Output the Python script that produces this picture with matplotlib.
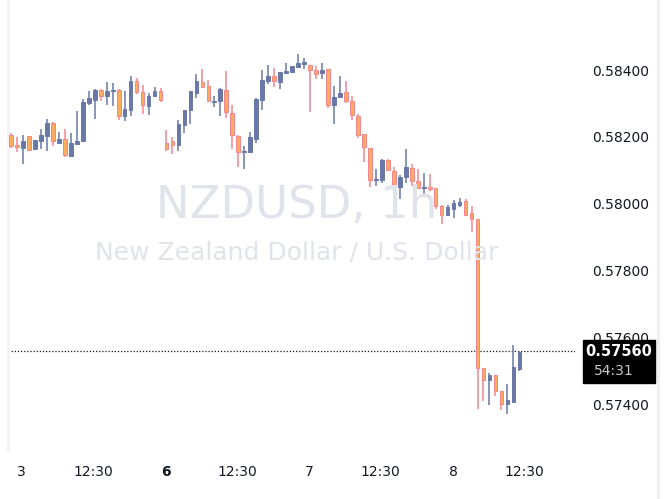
import matplotlib
matplotlib.use("Agg")
import matplotlib.pyplot as plt
import numpy as np

opens = [0.58205,0.58176,0.58166,0.58202,0.58163,0.58187,0.58202,0.58241,0.58181,0.58193,
         0.58142,0.58178,0.58187,0.58301,0.58310,0.58340,0.58322,0.58337,0.58340,0.58262,
         0.58280,0.58367,0.58334,0.58292,0.58322,0.58337,0.58181,0.58187,0.58175,0.58235,
         0.58280,0.58331,0.58364,0.58352,0.58304,0.58307,0.58340,0.58271,0.58202,0.58154,
         0.58154,0.58193,0.58310,0.58367,0.58382,0.58364,0.58391,0.58394,0.58409,0.58418,
         0.58415,0.58400,0.58391,0.58403,0.58295,0.58319,0.58334,0.58307,0.58262,0.58208,
         0.58166,0.58070,0.58070,0.58130,0.58097,0.58049,0.58079,0.58106,0.58067,0.58046,
         0.58049,0.58046,0.57992,0.57965,0.57983,0.57995,0.58007,0.57971,0.57953,0.57509,
         0.57473,0.57488,0.57440,0.57401,0.57407,0.57506]
closes = [0.58172,0.58170,0.58187,0.58160,0.58190,0.58205,0.58241,0.58187,0.58193,0.58145,
          0.58181,0.58187,0.58304,0.58316,0.58340,0.58322,0.58337,0.58340,0.58262,0.58283,
          0.58367,0.58334,0.58295,0.58322,0.58337,0.58310,0.58163,0.58175,0.58238,0.58280,
          0.58337,0.58367,0.58349,0.58307,0.58307,0.58343,0.58274,0.58205,0.58154,0.58157,
          0.58199,0.58313,0.58370,0.58382,0.58367,0.58394,0.58397,0.58412,0.58421,0.58424,
          0.58400,0.58388,0.58400,0.58295,0.58319,0.58331,0.58307,0.58265,0.58205,0.58169,
          0.58070,0.58073,0.58130,0.58100,0.58052,0.58079,0.58109,0.58067,0.58046,0.58049,
          0.58043,0.57992,0.57965,0.57989,0.58001,0.58004,0.57965,0.57953,0.57509,0.57473,
          0.57488,0.57440,0.57401,0.57413,0.57512,0.57557]
highs = [0.58210,0.58199,0.58205,0.58202,0.58190,0.58223,0.58253,0.58244,0.58214,0.58223,
         0.58211,0.58277,0.58313,0.58337,0.58343,0.58343,0.58364,0.58361,0.58343,0.58337,
         0.58382,0.58376,0.58355,0.58331,0.58349,0.58346,0.58220,0.58199,0.58250,0.58280,
         0.58337,0.58388,0.58403,0.58370,0.58322,0.58346,0.58397,0.58295,0.58205,0.58172,
         0.58214,0.58316,0.58400,0.58415,0.58406,0.58394,0.58421,0.58412,0.58448,0.58436,
         0.58415,0.58412,0.58421,0.58403,0.58352,0.58382,0.58367,0.58322,0.58268,0.58208,
         0.58166,0.58103,0.58133,0.58133,0.58109,0.58085,0.58163,0.58118,0.58103,0.58091,
         0.58088,0.58046,0.57995,0.57995,0.58010,0.58016,0.58013,0.57992,0.57953,0.57509,
         0.57494,0.57488,0.57440,0.57461,0.57578,0.57560]
lows = [0.58165,0.58154,0.58118,0.58160,0.58160,0.58163,0.58157,0.58172,0.58181,0.58139,
        0.58139,0.58178,0.58187,0.58295,0.58253,0.58307,0.58295,0.58292,0.58250,0.58247,
        0.58262,0.58328,0.58268,0.58265,0.58322,0.58304,0.58157,0.58148,0.58157,0.58211,
        0.58238,0.58316,0.58349,0.58307,0.58289,0.58262,0.58256,0.58163,0.58109,0.58103,
        0.58154,0.58181,0.58280,0.58358,0.58349,0.58343,0.58391,0.58394,0.58409,0.58403,
        0.58274,0.58373,0.58373,0.58286,0.58238,0.58319,0.58301,0.58250,0.58196,0.58124,
        0.58049,0.58052,0.58061,0.58100,0.58034,0.58013,0.58061,0.58052,0.58043,0.58028,
        0.58037,0.57983,0.57938,0.57965,0.57956,0.57989,0.57962,0.57914,0.57386,0.57410,
        0.57398,0.57425,0.57383,0.57371,0.57407,0.57500]

xtick_pos = [1.7, 13.7, 25.9, 37.9, 49.8, 61.8, 73.9, 85.9]
xtick_labels = ["3", "12:30", "6", "12:30", "7", "12:30", "8", "12:30"]
ytick_vals = [0.574, 0.576, 0.578, 0.580, 0.582, 0.584]
last_price = 0.57560
countdown = "54:31"

UP_BODY, UP_EDGE = "#6a78a8", "#6a78a8"
DN_BODY, DN_EDGE = "#fcac5e", "#f38590"

fig = plt.figure(figsize=(6.7, 4.99), dpi=100)
ax = fig.add_axes([8/670, 49/499, 567/670, 450/499])
o = np.array(opens); c = np.array(closes); h = np.array(highs); l = np.array(lows)
x = np.arange(len(o))
up = c >= o
ax.vlines(x[up], l[up], h[up], color=UP_EDGE, lw=1.1, zorder=2)
ax.vlines(x[~up], l[~up], h[~up], color=DN_EDGE, lw=1.1, zorder=2)
bot = np.minimum(o, c); ht = np.maximum(np.abs(c - o), 0.000008)
ax.bar(x[up], ht[up], bottom=bot[up], width=0.62, color=UP_BODY, edgecolor=UP_EDGE, lw=0.7, zorder=3)
ax.bar(x[~up], ht[~up], bottom=bot[~up], width=0.62, color=DN_BODY, edgecolor=DN_EDGE, lw=0.7, zorder=3)

ax.set_xlim(-0.5, 94.3)
ax.set_ylim(0.584 - 380/33400, 0.584 + 70/33400)
ax.axhline(last_price, color="#131722", ls=(0, (1, 1.5)), lw=0.9, zorder=1)

for s in ax.spines.values():
    s.set_visible(False)
ax.spines['left'].set_visible(True)
ax.spines['left'].set_color("#f3f3f5")
ax.spines['left'].set_linewidth(2)
ax.yaxis.tick_right()
ax.set_yticks(ytick_vals)
ax.set_yticklabels([f"{v:.5f}" for v in ytick_vals], fontsize=10, color="#131722")
ax.tick_params(axis='y', length=0, pad=12)
ax.set_xticks(xtick_pos)
ax.set_xticklabels(xtick_labels, fontsize=10, color="#131722")
for t in ax.get_xticklabels():
    if t.get_text() == "6":
        t.set_fontweight("bold")
ax.tick_params(axis='x', length=0, pad=11)

fig.text(297/670, 1 - 205/499, "NZDUSD, 1h", fontsize=32.5, color="#e1e3ea", ha="center", va="center", zorder=0)
fig.text(297/670, 1 - 253/499, "New Zealand Dollar / U.S. Dollar", fontsize=18, color="#e1e3ea", ha="center", va="center", zorder=0)

box = plt.Rectangle((583/670, 1 - 383/499), 72/670, 43/499, transform=fig.transFigure, color="black", zorder=5)
fig.patches.append(box)
fig.text(619/670, 1 - 351/499, f"{last_price:.5f}", fontsize=10.5, color="white", fontweight="bold", ha="center", va="center", zorder=6)
fig.text(594/670, 1 - 371/499, countdown, fontsize=10, color="#c8c8c8", ha="left", va="center", zorder=6)
fig.add_artist(plt.Line2D([658/670, 658/670], [0, 1], color="#f0f0f3", lw=2, transform=fig.transFigure))

fig.savefig("out.png", dpi=100)
